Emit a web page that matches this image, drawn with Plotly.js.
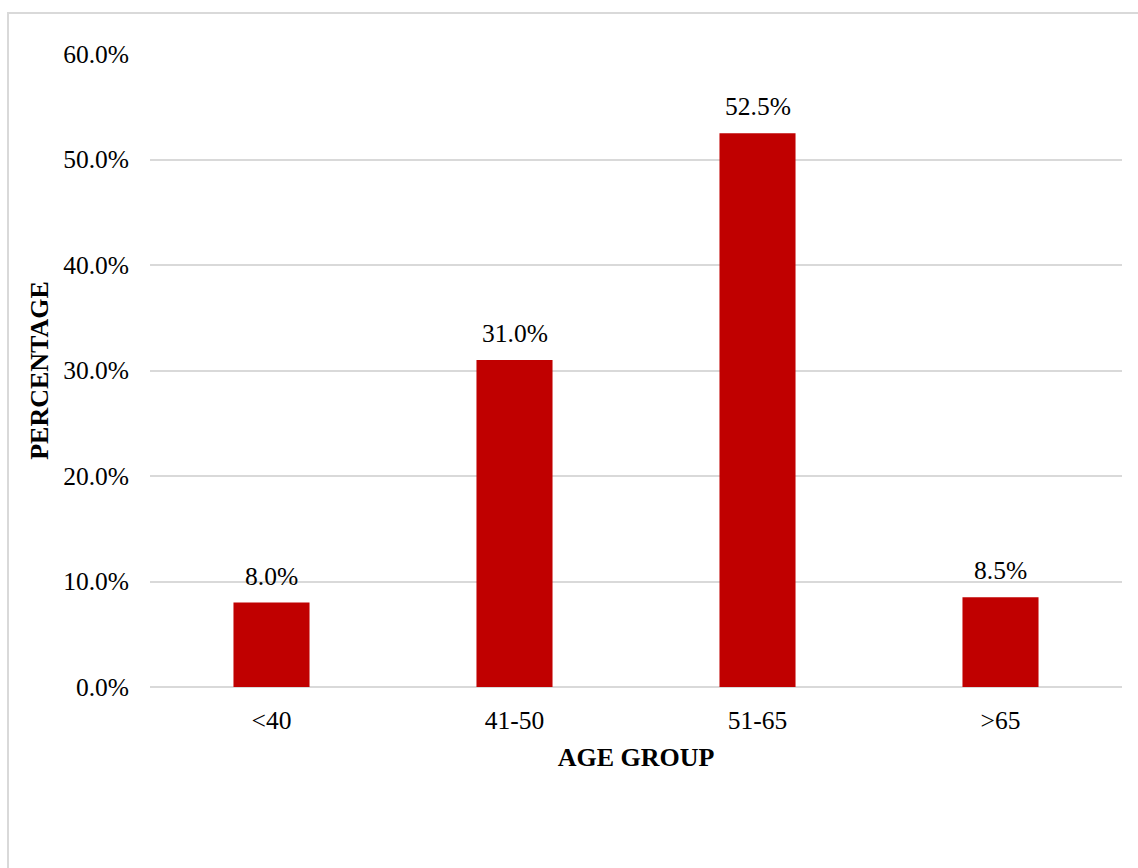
<!DOCTYPE html>
<html>
<head>
<meta charset="utf-8">
<script src="https://cdn.plot.ly/plotly-3.0.1.min.js"></script>
<style>
  html, body { margin: 0; padding: 0; background: #fff; }
  #chart { width: 1138px; height: 868px; }
</style>
</head>
<body>
<div id="chart"></div>
<script>
// Share of respondents by age group (%)
const ageGroups = ['<40', '41-50', '51-65', '>65'];
const percentages = [8.0, 31.0, 52.5, 8.5];
const yTickValues = [0, 10, 20, 30, 40, 50, 60];
const yTickLabels = yTickValues.map(v => v.toFixed(1) + '%');

const FONT = '"Liberation Serif", "Times New Roman", serif';
const BAR_RED = '#c00000';
const GRID = '#d9d9d9';
const LABEL_SIZE = 25.5;
const TITLE_SIZE = 26;

const trace = {
  type: 'bar',
  x: ageGroups,
  y: percentages,
  marker: { color: BAR_RED, line: { width: 0 } },
  hoverinfo: 'skip'
};

// value labels sitting just above each bar
const valueLabels = ageGroups.map((g, i) => ({
  x: g,
  y: percentages[i],
  xref: 'x',
  yref: 'y',
  text: percentages[i].toFixed(1) + '%',
  showarrow: false,
  yanchor: 'bottom',
  yshift: 10,
  font: { family: FONT, size: LABEL_SIZE, color: '#000' }
}));

const layout = {
  width: 1138,
  height: 868,
  margin: { l: 150, r: 16, t: 54, b: 181, pad: 0 },
  paper_bgcolor: '#fff',
  plot_bgcolor: '#fff',
  showlegend: false,
  bargap: 0.687,
  font: { family: FONT, size: LABEL_SIZE, color: '#000' },
  xaxis: {
    type: 'category',
    showgrid: false,
    zeroline: false,
    showline: false,
    ticks: '',
    ticklabelstandoff: 15,
    tickfont: { family: FONT, size: LABEL_SIZE, color: '#000' },
    title: {
      text: '<b>AGE GROUP</b>',
      font: { family: FONT, size: TITLE_SIZE, color: '#000' },
      standoff: 14
    }
  },
  yaxis: {
    range: [0, 60],
    tickmode: 'array',
    tickvals: yTickValues,
    ticktext: yTickLabels,
    showgrid: true,
    gridcolor: GRID,
    gridwidth: 2,
    zeroline: true,
    zerolinecolor: GRID,
    zerolinewidth: 2,
    showline: false,
    ticks: '',
    ticklabelstandoff: 20,
    tickfont: { family: FONT, size: LABEL_SIZE, color: '#000' },
    title: {
      text: '<b>PERCENTAGE</b>',
      font: { family: FONT, size: TITLE_SIZE, color: '#000' },
      standoff: 7
    }
  },
  annotations: valueLabels,
  shapes: [{
    // chart-area frame
    type: 'rect',
    xref: 'paper', yref: 'paper',
    x0: (8 - 150) / 972, x1: (1142 - 150) / 972,
    y0: (687 - 880) / 633, y1: (687 - 13) / 633,
    line: { color: GRID, width: 2 },
    fillcolor: 'rgba(0,0,0,0)',
    layer: 'below'
  }]
};

Plotly.newPlot('chart', [trace], layout, { displayModeBar: false, staticPlot: true });
</script>
</body>
</html>
